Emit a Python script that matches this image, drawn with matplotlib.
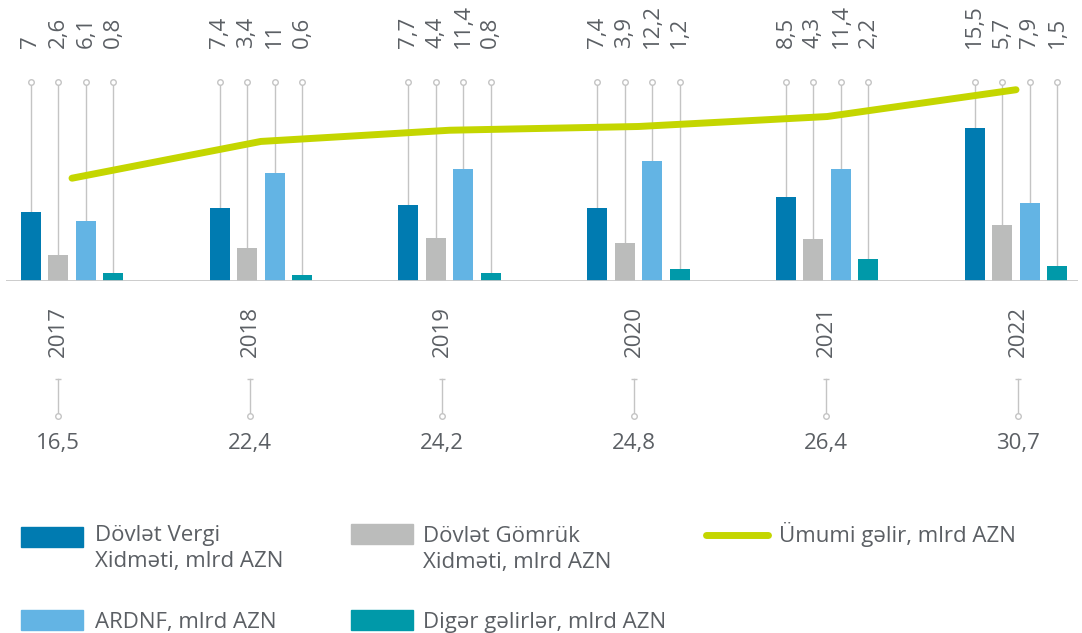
import numpy as np
import matplotlib.pyplot as plt
from matplotlib.patches import Rectangle

plt.rcParams['font.family'] = ['Open Sans', 'DejaVu Sans']

# data, mlrd AZN
years = ['2017', '2018', '2019', '2020', '2021', '2022']
vergi = [7, 7.4, 7.7, 7.4, 8.5, 15.5]
gomruk = [2.6, 3.4, 4.4, 3.9, 4.3, 5.7]
ardnf = [6.1, 11, 11.4, 12.2, 11.4, 7.9]
diger = [0.8, 0.6, 0.8, 1.2, 2.2, 1.5]
umumi = [16.5, 22.4, 24.2, 24.8, 26.4, 30.7]

bar_labels = ['Dövlət Vergi\nXidməti, mlrd AZN', 'Dövlət Gömrük\nXidməti, mlrd AZN',
              'ARDNF, mlrd AZN', 'Digər gəlirlər, mlrd AZN']
line_label = 'Ümumi gəlir, mlrd AZN'

colors = ['#007bb1', '#bbbcbb', '#63b4e4', '#0099a9']
line_color = '#c4d600'
text_color = '#5b5f64'
stem_color = '#c4c4c4'
fs = 16


def fmt(v):
    return f'{v:g}'.replace('.', ',')


W, H = 1082, 633
fig = plt.figure(figsize=(W / 100, H / 100), dpi=100)

# main panel: bars + line, baseline at 281 px from top
base_px = 281
step = 188.8  # px between groups
ax = fig.add_axes([6 / W, (H - base_px) / H, 1072 / W, base_px / H])
ax.set_xlim(-(72 - 6) / step, 5 + (1078 - 1016) / step)
ax.set_ylim(0, base_px / 9.85)
ax.axis('off')

x = np.arange(len(years))
width = 20 / step
series = [vergi, gomruk, ardnf, diger]
marker_y = (base_px - 82) / 9.85
label_y = (base_px - 48) / 9.85

for k, vals in enumerate(series):
    xs = x + (k - 1.5) * 27.5 / step
    ax.vlines(xs, 0, marker_y, color=stem_color, lw=1, zorder=1)
    ax.plot(xs, [marker_y] * len(xs), 'o', ms=4, mfc='white', mec=stem_color, mew=1, zorder=2)
    ax.bar(xs, vals, width=width, color=colors[k], zorder=3)
    for xi, v in zip(xs, vals):
        ax.text(xi, label_y, fmt(v), rotation=90, ha='center', va='bottom',
                fontsize=fs, color=text_color)

ax.axhline(0, color='#c8c8c8', lw=2, zorder=4)

ax2 = ax.twinx()
ax2.set_ylim(0, base_px / 6.23)
ax2.plot(x, umumi, color=line_color, lw=5, solid_capstyle='round')
ax2.axis('off')

# lower panel: years, connectors, totals (own spacing)
low = fig.add_axes([0, 0, 1, 1])
low.set_xlim(-58 / 192, (W - 58) / 192)
low.set_ylim(H, 0)
low.axis('off')
for i, (yr, tot) in enumerate(zip(years, umumi)):
    low.text(i, 306, yr, rotation=90, ha='center', va='top', fontsize=fs, color=text_color)
    low.plot([i, i], [379, 416], color=stem_color, lw=1)
    low.plot(i, 379, marker='_', ms=5, mec=stem_color, mew=1)
    low.plot(i, 416, 'o', ms=4, mfc='white', mec=stem_color, mew=1)
    low.text(i, 449, fmt(tot), ha='center', va='baseline', fontsize=fs, color=text_color)

# legend
leg = fig.add_axes([0, 0, 1, 1])
leg.set_xlim(0, W)
leg.set_ylim(H, 0)
leg.axis('off')
boxes = [(21, 527, 95, 541), (351, 524, 423, 542), (21, 610, 95, 628), (351, 610, 423, 628)]
for (bx, by, tx, ty), c, lab in zip(boxes, colors, bar_labels):
    leg.add_patch(Rectangle((bx, by), 62, 20, color=c))
    for j, line in enumerate(lab.split('\n')):
        leg.text(tx, ty + 26 * j, line, va='baseline', ha='left', fontsize=fs, color=text_color)
leg.plot([706, 768], [535, 535], color=line_color, lw=5, solid_capstyle='round')
leg.text(779, 542, line_label, va='baseline', ha='left', fontsize=fs, color=text_color)

fig.savefig('out.png', dpi=100)
